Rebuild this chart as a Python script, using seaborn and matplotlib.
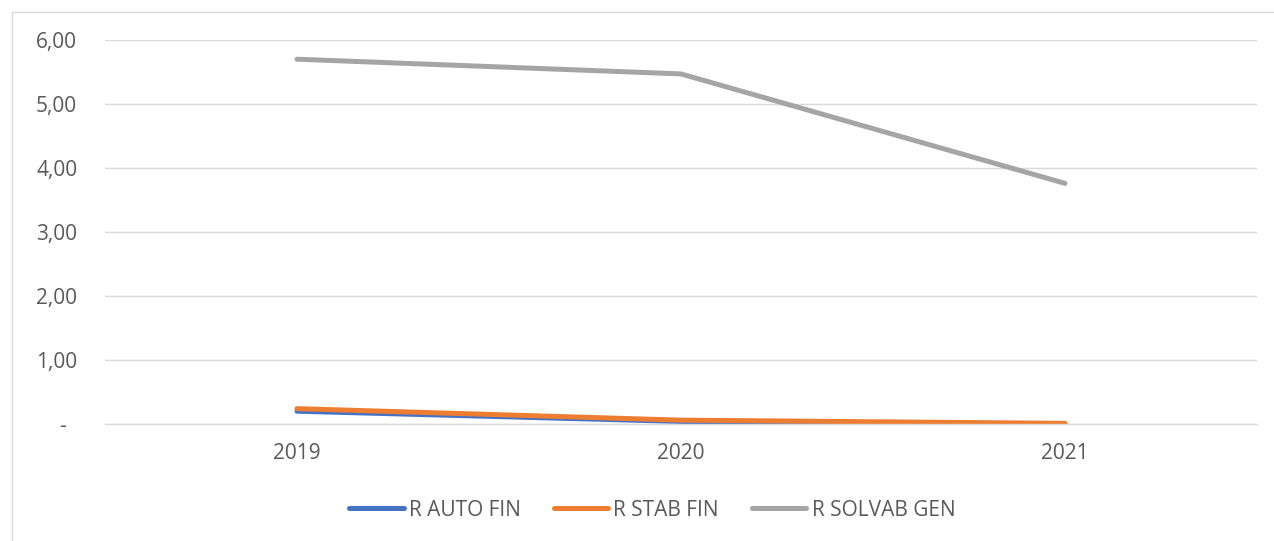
import matplotlib
matplotlib.use("Agg")
import matplotlib.pyplot as plt
import matplotlib.patches as mpatches
import seaborn as sns
import pandas as pd

years = ["2019", "2020", "2021"]
r_auto_fin = [0.20, 0.04, 0.00]
r_stab_fin = [0.24, 0.06, 0.01]
r_solvab_gen = [5.70, 5.47, 3.76]
series_names = ["R AUTO FIN", "R STAB FIN", "R SOLVAB GEN"]
colors = ["#4472C4", "#ED7D31", "#A5A5A5"]
y_ticks = [0, 1, 2, 3, 4, 5, 6]
y_tick_labels = ["-  ", "1,00", "2,00", "3,00", "4,00", "5,00", "6,00"]

rows = []
for name, vals in zip(series_names, [r_auto_fin, r_stab_fin, r_solvab_gen]):
    for yr, v in zip(years, vals):
        rows.append({"year": yr, "value": v, "series": name})
df = pd.DataFrame(rows)

sns.set_style("white")
plt.rcParams["font.family"] = ["Open Sans", "DejaVu Sans"]

fig = plt.figure(figsize=(12.74, 5.41), dpi=100)
ax = fig.add_axes([105/1274, 1-424/541, (1257-105)/1274, (424-40)/541])

sns.lineplot(data=df, x="year", y="value", hue="series", hue_order=series_names,
             palette=colors, linewidth=3.6, ax=ax, sort=False,
             solid_capstyle="round")

ax.set_xlim(-0.5, 2.5)
ax.set_ylim(0, 6)
ax.set_yticks(y_ticks)
ax.set_yticklabels(y_tick_labels)
ax.grid(axis="y", color="#D9D9D9", linewidth=1)
ax.set_axisbelow(True)
for s in ["top", "right", "left"]:
    ax.spines[s].set_visible(False)
ax.spines["bottom"].set_color("#D9D9D9")
ax.spines["bottom"].set_linewidth(1)
ax.tick_params(axis="y", length=0, pad=20, labelsize=15, labelcolor="#595959")
ax.tick_params(axis="x", length=0, pad=14, labelsize=15, labelcolor="#595959")
ax.set_xlabel("")
ax.set_ylabel("")

handles, labels = ax.get_legend_handles_labels()
ax.legend_.remove()
fig.legend(handles, labels, loc="center", bbox_to_anchor=(0.512, 0.057), ncol=3,
           frameon=False, fontsize=15, labelcolor="#595959", handlelength=2.6,
           handletextpad=0.25, columnspacing=1.6)

fig.patches.append(mpatches.Rectangle((12/1274, -0.05), 1.0, 1.05 - 12/541,
                                      transform=fig.transFigure, fill=False,
                                      edgecolor="#D9D9D9", linewidth=1))

fig.savefig("out.png", dpi=100)
